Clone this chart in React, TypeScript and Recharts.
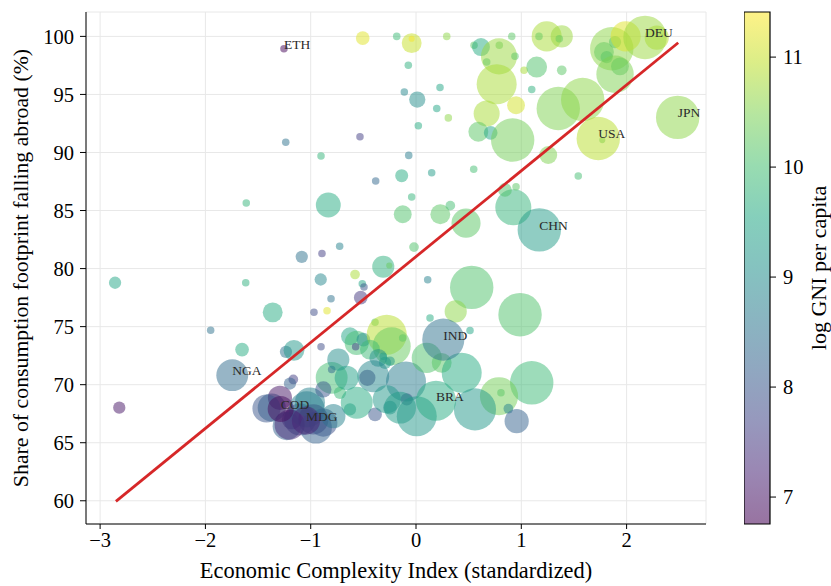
import {
  ScatterChart,
  Scatter,
  XAxis,
  YAxis,
  ZAxis,
  CartesianGrid,
  Cell,
  ReferenceArea,
} from 'recharts'

// unlabelled countries: ECI (std), share abroad (%), log GNI pc, footprint (bubble size)
const ECI = [
  -0.506, -0.183, -0.041, -0.041, -0.073, -0.111, 0.012, 0.022, -1.237, -0.532,
  -0.902, -0.069, -0.383, -0.136, -1.612, -0.833, -0.041, -0.126, -0.019, -1.085,
  -0.893, -0.725, -0.311, -0.254, -0.579, -0.905, -2.858, -1.617, -0.51, -0.494,
  -0.525, -0.807, -1.361, -0.969, -0.845, -1.95, -1.652, -1.235, -1.159, -0.902,
  -1.165, -1.197, -2.818, -1.37, -1.292, -1.18, -1.102, -1.038, -0.975, -0.88,
  -1.228, -1.007, -0.801, -0.88, -0.801, -0.738, -0.627, -0.563, -0.5, -0.573,
  -0.389, -0.278, -0.231, -0.126, 0.133, -0.437, -0.358, -0.294, -0.462, -0.406,
  -0.095, -0.722, -0.627, -0.563, -0.389, -0.278, -0.247, -0.088, 0.007, -0.658,
  -0.785, -0.152, -0.311, -0.247, 0.149, 0.548, 0.231, 0.326, 0.475, 0.924,
  0.845, 0.95, 1.256, 1.541, 0.111, 0.529, 0.377, 0.988, 0.513, 0.102,
  0.244, 0.434, 1.099, 0.788, 0.807, 0.56, 0.877, 0.956, 0.292, 0.228,
  0.197, 0.307, 0.551, 0.617, 0.791, 0.909, 0.788, 0.671, 0.94, 0.766,
  0.671, 0.95, 0.592, 0.709, 0.918, 1.026, 1.146, 1.099, 1.384, 1.241,
  1.168, 1.384, 1.361, 1.351, 1.583, 1.769, 1.859, 1.785, 1.811, 1.89,
  1.991, 2.286, 1.89, 1.937, -1.42, -1.2, -0.95,
]
const SHARE = [
  99.85, 100.0, 99.42, 99.8, 97.51, 95.21, 94.56, 92.31, 90.89, 91.35,
  89.69, 89.75, 87.54, 88.0, 85.65, 85.48, 86.17, 84.68, 81.85, 81.01,
  81.3, 81.93, 80.16, 80.27, 79.49, 79.06, 78.78, 78.78, 78.69, 78.41,
  77.49, 77.41, 76.23, 76.23, 76.37, 74.68, 73.02, 72.83, 72.96, 73.26,
  70.45, 70.1, 68.02, 68.02, 68.87, 67.01, 67.01, 67.87, 67.01, 66.73,
  66.43, 68.47, 70.59, 69.59, 71.31, 72.16, 74.17, 73.6, 73.88, 73.26,
  75.37, 74.31, 73.31, 74.03, 75.75, 73.02, 72.31, 71.88, 70.59, 70.73,
  70.27, 69.3, 67.87, 68.44, 67.44, 68.73, 68.02, 68.73, 67.29, 70.59,
  67.29, 68.02, 72.45, 72.02, 88.26, 88.55, 84.68, 85.42, 83.91, 85.28,
  86.77, 87.05, 89.78, 87.97, 79.04, 78.38, 76.31, 76.03, 74.66, 72.31,
  71.88, 71.02, 70.16, 69.01, 69.3, 67.87, 67.93, 66.86, 100.0, 95.59,
  93.79, 92.98, 99.23, 99.08, 99.23, 100.0, 98.28, 97.79, 98.28, 95.88,
  93.36, 94.07, 91.78, 91.69, 91.07, 97.08, 97.36, 95.42, 97.08, 100.0,
  100.0, 100.0, 99.8, 93.79, 94.56, 91.07, 98.94, 98.65, 98.22, 99.51,
  100.0, 99.89, 96.74, 97.42, 67.95, 66.55, 66.3,
]
const LOG_GNI = [
  11.2, 9.9, 11.0, 11.35, 9.7, 8.9, 9.0, 9.6, 8.5, 7.6,
  9.8, 8.7, 8.3, 9.6, 9.8, 9.6, 9.8, 10.1, 10.1, 8.5,
  7.6, 8.8, 9.7, 10.3, 10.8, 8.9, 9.5, 9.7, 9.5, 8.0,
  7.5, 8.5, 9.6, 7.8, 11.2, 8.5, 9.6, 8.5, 9.2, 7.8,
  7.6, 8.2, 7.0, 8.3, 7.0, 7.1, 7.6, 8.7, 7.4, 7.9,
  8.2, 8.8, 10.0, 8.0, 8.3, 9.0, 9.5, 10.0, 9.0, 7.6,
  10.2, 10.9, 10.3, 10.2, 9.6, 9.9, 9.0, 9.3, 7.5, 8.9,
  8.7, 9.9, 9.3, 9.6, 8.0, 9.2, 9.1, 8.0, 9.2, 9.4,
  8.8, 9.3, 9.4, 9.2, 9.3, 10.0, 10.2, 10.0, 10.2, 9.8,
  10.1, 10.2, 10.5, 10.0, 8.8, 10.1, 10.6, 10.1, 9.5, 10.1,
  10.2, 9.6, 9.9, 10.4, 10.2, 9.2, 8.8, 8.2, 10.6, 9.5,
  9.5, 10.6, 10.2, 9.6, 10.2, 10.2, 10.7, 10.3, 10.2, 10.8,
  10.8, 11.1, 10.2, 9.5, 10.4, 10.8, 10.1, 9.7, 10.2, 10.8,
  10.3, 10.7, 10.3, 10.5, 10.6, 10.2, 10.6, 10.3, 10.2, 10.2,
  11.2, 10.9, 10.5, 10.3, 8.0, 7.3, 8.2,
]
const FOOTPRINT = [
  10, 3, 21, 2, 3, 3, 14, 3, 3, 3,
  3, 3, 3, 9, 3, 33, 3, 17, 5, 8,
  3, 3, 26, 2, 5, 8, 8, 3, 3, 3,
  10, 3, 21, 3, 3, 3, 10, 8, 23, 3,
  5, 8, 8, 42, 31, 21, 54, 69, 48, 42,
  42, 48, 54, 14, 3, 26, 17, 31, 10, 3,
  3, 85, 77, 3, 3, 21, 17, 8, 14, 54,
  85, 8, 8, 54, 10, 42, 10, 8, 85, 31,
  31, 54, 3, 5, 3, 3, 21, 5, 45, 69,
  10, 3, 17, 3, 3, 100, 26, 100, 3, 48,
  21, 85, 100, 77, 3, 94, 5, 31, 3, 3,
  3, 3, 3, 17, 3, 3, 69, 3, 3, 85,
  36, 17, 21, 10, 100, 3, 23, 3, 5, 48,
  3, 26, 3, 100, 100, 2, 100, 21, 8, 8,
  48, 31, 74, 17, 42, 48, 54,
]

// annotated countries
const LABEL_ISO = ['ETH', 'NGA', 'COD', 'MDG', 'CHN', 'IND', 'BRA', 'USA', 'DEU', 'JPN']
const LABEL_ECI = [-1.254, -1.745, -1.285, -1.045, 1.171, 0.259, 0.19, 1.731, 2.175, 2.485]
const LABEL_SHARE = [98.94, 70.82, 67.9, 66.9, 83.33, 73.88, 68.62, 91.21, 99.91, 93.02]
const LABEL_GNI = [6.8, 8.4, 6.9, 7.2, 9.3, 8.5, 9.6, 10.9, 10.7, 10.6]
const LABEL_FOOTPRINT = [3, 54, 36, 42, 100, 94, 85, 100, 100, 100]

// OLS fit end points
const FIT_ECI = [-2.85, 2.49]
const FIT_SHARE = [59.95, 99.45]

const X_TICKS = [-3, -2, -1, 0, 1, 2]
const Y_TICKS = [60, 65, 70, 75, 80, 85, 90, 95, 100]
const CBAR_TICKS = [7, 8, 9, 10, 11]
const GNI_MIN = 6.755
const GNI_MAX = 11.41

const VIRIDIS = [
  '#440154', '#482475', '#414487', '#355f8d', '#2a788e', '#21918c',
  '#22a884', '#44bf70', '#7ad151', '#bddf26', '#fde725',
]

const FONT = '"Liberation Serif", "Times New Roman", Times, serif'

function hexToRgb(h: string) {
  const n = parseInt(h.slice(1), 16)
  return [(n >> 16) & 255, (n >> 8) & 255, n & 255]
}

function viridis(v: number) {
  const u = Math.min(1, Math.max(0, (v - GNI_MIN) / (GNI_MAX - GNI_MIN)))
  const t = u * (VIRIDIS.length - 1)
  const i = Math.min(Math.floor(t), VIRIDIS.length - 2)
  const f = t - i
  const a = hexToRgb(VIRIDIS[i])
  const b = hexToRgb(VIRIDIS[i + 1])
  const c = a.map((x, k) => Math.round(x + (b[k] - x) * f))
  return `rgb(${c[0]},${c[1]},${c[2]})`
}

const bubbles = [
  ...ECI.map((eci, i) => ({ eci, share: SHARE[i], gni: LOG_GNI[i], fp: FOOTPRINT[i] })),
  ...LABEL_ECI.map((eci, i) => ({
    eci,
    share: LABEL_SHARE[i],
    gni: LABEL_GNI[i],
    fp: LABEL_FOOTPRINT[i],
  })),
]

const labelled = LABEL_ISO.map((iso, i) => ({ iso, eci: LABEL_ECI[i], share: LABEL_SHARE[i] }))
const fitLine = FIT_ECI.map((eci, i) => ({ eci, share: FIT_SHARE[i] }))
const cbarData = CBAR_TICKS.map((y) => ({ x: 0.5, y }))

const fmtX = (v: number) => (v < 0 ? `\u2212${Math.abs(v)}` : `${v}`)

const YTitle = ({ viewBox }: any) => {
  const x = 28
  const y = viewBox.y + viewBox.height / 2
  return (
    <text
      x={x}
      y={y}
      transform={`rotate(-90 ${x} ${y})`}
      textAnchor="middle"
      fontSize={21.8}
      fontFamily={FONT}
      fill="#000"
    >
      Share of consumption footprint falling abroad (%)
    </text>
  )
}

const XTitle = ({ viewBox }: any) => (
  <text
    x={viewBox.x + viewBox.width / 2}
    y={578}
    textAnchor="middle"
    fontSize={22.4}
    fontFamily={FONT}
    fill="#000"
  >
    Economic Complexity Index (standardized)
  </text>
)

const CbarTitle = ({ viewBox }: any) => {
  const x = 82
  const y = viewBox.y + viewBox.height / 2
  return (
    <text
      x={x}
      y={y}
      transform={`rotate(-90 ${x} ${y})`}
      textAnchor="middle"
      fontSize={22}
      fontFamily={FONT}
      fill="#000"
    >
      log GNI per capita
    </text>
  )
}

const tickStyle = { fill: '#000', fontSize: 20.5, fontFamily: FONT }

export default function App() {
  return (
    <div
      style={{
        position: 'absolute',
        left: 0,
        top: 0,
        width: 831,
        height: 586,
        background: '#fff',
        fontFamily: FONT,
      }}
    >
      <svg width={0} height={0} style={{ position: 'absolute' }}>
        <defs>
          <linearGradient id="cbarGrad" x1="0" y1="1" x2="0" y2="0">
            {VIRIDIS.map((c, i) => (
              <stop key={c} offset={i / (VIRIDIS.length - 1)} stopColor={c} stopOpacity={0.55} />
            ))}
          </linearGradient>
        </defs>
      </svg>

      <div style={{ position: 'absolute', left: 0, top: 0 }}>
        <ScatterChart width={720} height={586} margin={{ top: 12, right: 14, bottom: 0, left: 0 }}>
          <CartesianGrid stroke="#e8e8e8" strokeWidth={1} />
          <XAxis
            type="number"
            dataKey="eci"
            domain={[-3.134, 2.754]}
            ticks={X_TICKS}
            tickFormatter={fmtX}
            allowDataOverflow
            height={62}
            tick={tickStyle}
            tickSize={5}
            tickMargin={3}
            stroke="#000"
            label={<XTitle />}
          />
          <YAxis
            type="number"
            dataKey="share"
            domain={[58.0, 102.1]}
            ticks={Y_TICKS}
            allowDataOverflow
            width={86}
            tick={tickStyle}
            tickSize={6}
            tickMargin={6}
            stroke="#000"
            label={<YTitle />}
          />
          <ZAxis type="number" dataKey="fp" domain={[0, 100]} range={[0, 1480]} />
          <Scatter data={bubbles} isAnimationActive={false}>
            {bubbles.map((d, i) => (
              <Cell key={`b-${i}`} fill={viridis(d.gni)} fillOpacity={0.5} />
            ))}
          </Scatter>
          <Scatter
            data={fitLine}
            isAnimationActive={false}
            line={{ stroke: '#d62728', strokeWidth: 2.8 }}
            shape={() => <g />}
          />
          <Scatter
            data={labelled}
            isAnimationActive={false}
            shape={(p: any) => (
              <text x={p.cx} y={p.cy} fontSize={13.5} fontFamily={FONT} fill="#2a2a2a">
                {p.payload.iso}
              </text>
            )}
          />
        </ScatterChart>
      </div>

      <div style={{ position: 'absolute', left: 744, top: 0 }}>
        <ScatterChart width={87} height={586} margin={{ top: 12, right: 0, bottom: 62, left: 0 }}>
          <XAxis type="number" dataKey="x" domain={[0, 1]} hide />
          <YAxis
            type="number"
            dataKey="y"
            orientation="right"
            domain={[GNI_MIN, GNI_MAX]}
            ticks={CBAR_TICKS}
            allowDataOverflow
            width={61}
            axisLine={false}
            tick={tickStyle}
            tickSize={6}
            tickMargin={7}
            stroke="#000"
            label={<CbarTitle />}
          />
          <Scatter data={cbarData} isAnimationActive={false} shape={() => <g />} />
          <ReferenceArea
            x1={0}
            x2={1}
            y1={GNI_MIN}
            y2={GNI_MAX}
            fill="url(#cbarGrad)"
            fillOpacity={1}
            stroke="#000"
            strokeWidth={1.2}
          />
        </ScatterChart>
      </div>
    </div>
  )
}
